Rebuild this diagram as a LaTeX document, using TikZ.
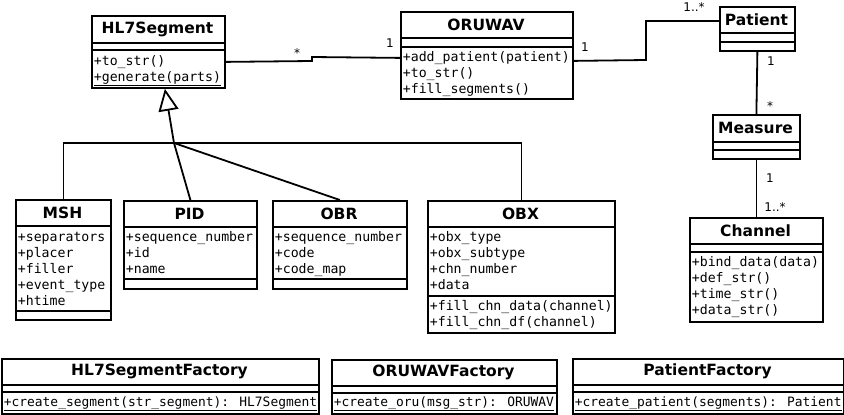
\documentclass[tikz,border=0pt]{standalone}
\usepackage{fontspec}
\setmainfont{DejaVu Sans}
\newfontfamily\membfont{DejaVu Sans Mono}
\usetikzlibrary{arrows.meta}

\begin{document}
\begin{tikzpicture}[x=1pt,y=-1pt,line width=1.8pt,
  cls/.style={draw,anchor=north west,inner sep=0pt},
  ttl/.style={font=\fontsize{15.5}{18}\selectfont\bfseries},
  mem/.style={anchor=base west,inner sep=0pt,font=\membfont\fontsize{13.2}{16}\selectfont},
  fmem/.style={mem,font=\membfont\fontsize{12.9}{16}\selectfont},
  mult/.style={anchor=base,inner sep=0pt,font=\fontsize{12}{14}\selectfont}]
\useasboundingbox (0,0) rectangle (844,415);
% HL7Segment
\node[cls,minimum width=133pt,minimum height=72pt] (hl7) at (91,15) {};
\node[ttl] (hl7t) at (157.5,29) {HL7Segment};
\draw (91,43) -- (224,43) (91,50) -- (224,50);
\node[mem] (hl7m1) at (93,65) {+to\_str()};
\node[mem] (hl7m2) at (93,81) {\underline{+generate(parts)}};
% ORUWAV
\node[cls,minimum width=172pt,minimum height=87pt] (oru) at (400,11) {};
\node[ttl] (orut) at (486,24.5) {ORUWAV};
\draw (400,38) -- (572,38) (400,47) -- (572,47);
\node[mem] (orum1) at (402,61) {+add\_patient(patient)};
\node[mem] (orum2) at (402,77) {+to\_str()};
\node[mem] (orum3) at (402,93) {+fill\_segments()};
% Patient / Measure / Channel
\node[cls,minimum width=75pt,minimum height=44pt] (pat) at (719,6) {};
\node[ttl] (patt) at (756.5,19.5) {Patient};
\draw (719,33) -- (794,33) (719,42) -- (794,42);
\node[cls,minimum width=87pt,minimum height=44pt] (meas) at (712,114) {};
\node[ttl] (meast) at (755.5,128) {Measure};
\draw (712,142) -- (799,142) (712,150) -- (799,150);
\node[cls,minimum width=133pt,minimum height=104pt] (chn) at (689,217) {};
\node[ttl] (chnt) at (755.5,230.5) {Channel};
\draw (689,244) -- (822,244) (689,252) -- (822,252);
\node[mem] (chnm1) at (691,266) {+bind\_data(data)};
\node[mem] (chnm2) at (691,282) {+def\_str()};
\node[mem] (chnm3) at (691,298) {+time\_str()};
\node[mem] (chnm4) at (691,314) {+data\_str()};
% 子类 MSH PID OBR OBX
\node[cls,minimum width=95pt,minimum height=120pt] (msh) at (15,199) {};
\node[ttl] (msht) at (62.5,212.5) {MSH};
\draw (15,226) -- (110,226) (15,311) -- (110,311);
\node[mem] (msha1) at (17,241) {+separators};
\node[mem] (msha2) at (17,257) {+placer};
\node[mem] (msha3) at (17,273) {+filler};
\node[mem] (msha4) at (17,289) {+event\_type};
\node[mem] (msha5) at (17,305) {+htime};
\node[cls,minimum width=133pt,minimum height=88pt] (pid) at (123,200) {};
\node[ttl] (pidt) at (189.5,213.5) {PID};
\draw (123,227) -- (256,227) (123,279) -- (256,279);
\node[mem] (pida1) at (125,241) {+sequence\_number};
\node[mem] (pida2) at (125,257) {+id};
\node[mem] (pida3) at (125,273) {+name};
\node[cls,minimum width=134pt,minimum height=88pt] (obr) at (272,200) {};
\node[ttl] (obrt) at (339,213.5) {OBR};
\draw (272,227) -- (406,227) (272,279) -- (406,279);
\node[mem] (obra1) at (274,241) {+sequence\_number};
\node[mem] (obra2) at (274,257) {+code};
\node[mem] (obra3) at (274,273) {+code\_map};
\node[cls,minimum width=187pt,minimum height=132pt] (obx) at (427,200) {};
\node[ttl] (obxt) at (520.5,213.5) {OBX};
\draw (427,227) -- (614,227) (427,296) -- (614,296);
\node[mem] (obxa1) at (429,241) {+obx\_type};
\node[mem] (obxa2) at (429,257) {+obx\_subtype};
\node[mem] (obxa3) at (429,273) {+chn\_number};
\node[mem] (obxa4) at (429,289) {+data};
\node[mem] (obxm1) at (429,310) {+fill\_chn\_data(channel)};
\node[mem] (obxm2) at (429,326) {+fill\_chn\_df(channel)};
% 工厂类
\node[cls,minimum width=317pt,minimum height=55pt] (segf) at (1,358) {};
\node[ttl] (segft) at (159.5,371.5) {HL7SegmentFactory};
\draw (1,385) -- (318,385) (1,392) -- (318,392);
\node[fmem] (segfm) at (3,406) {\underline{+create\_segment(str\_segment): HL7Segment}};
\node[cls,minimum width=225pt,minimum height=54pt] (oruf) at (331,359) {};
\node[ttl] (oruft) at (443.5,372.5) {ORUWAVFactory};
\draw (331,386) -- (556,386) (331,393) -- (556,393);
\node[fmem] (orufm) at (333,406) {\underline{+create\_oru(msg\_str): ORUWAV}};
\node[cls,minimum width=271pt,minimum height=55pt] (patf) at (572,358) {};
\node[ttl] (patft) at (707.5,371.5) {PatientFactory};
\draw (572,385) -- (843,385) (572,392) -- (843,392);
\node[fmem] (patfm) at (574,406) {\underline{+create\_patient(segments): Patient}};
% 关联
\draw ([yshift=-10pt]hl7.east) -- (312,61) -- (312,57) -- ([yshift=-2.5pt]oru.west);
\draw ([yshift=-5.5pt]oru.east) -- (646,60) |- ([yshift=8pt]pat.west);
\draw (pat.south) -- (meas.north);
\draw (meas.south) -- (chn.north);
% 多重性
\node[mult] (mu1) at (297,57) {*};
\node[mult] (mu2) at (390,47) {1};
\node[mult] (mu3) at (585,51) {1};
\node[mult] (mu4) at (694,12) {1..*};
\node[mult] (mu5) at (771,65) {1};
\node[mult] (mu6) at (770,110) {*};
\node[mult] (mu7) at (770,182) {1};
\node[mult] (mu8) at (775,211) {1..*};
% 继承
\coordinate (gen) at (174,143);
\draw[-{Triangle[open,length=22pt,width=20pt]}] (gen) -- ([xshift=6.5pt]hl7.south);
\draw (msh.north) -- (msh.north |- gen) -- (obx.north |- gen) -- (obx.north);
\draw (gen) -- (pid.north);
\draw (gen) -- (obr.north);
\end{tikzpicture}
\end{document}
